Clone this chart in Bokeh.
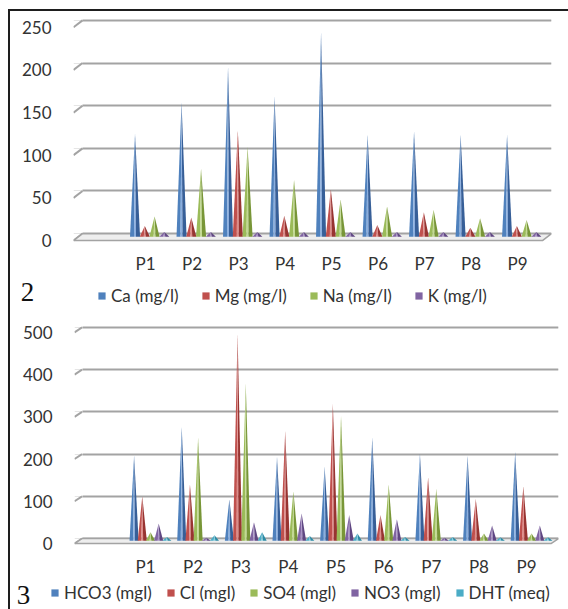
from bokeh.plotting import figure
from bokeh.models import Range1d, LinearAxis, Grid, FixedTicker, Legend, LegendItem, Label, Div
from bokeh.layouts import column, row
from bokeh.embed import file_html
from bokeh.resources import INLINE

# ---------------- data ----------------
stations = ["P1", "P2", "P3", "P4", "P5", "P6", "P7", "P8", "P9"]

cation_names = ["Ca (mg/l)", "Mg (mg/l)", "Na (mg/l)", "K (mg/l)"]
ca = [117, 154, 195, 161, 236, 116, 120, 116, 116]
mg = [9, 19, 121, 21, 52, 10, 25, 7, 9]
na = [20, 76, 102, 63, 40, 32, 28, 18, 16]
k = [2, 2, 2, 2, 2, 2, 2, 2, 2]
cation_ticks = [0, 50, 100, 150, 200, 250]

anion_names = ["HCO3 (mgl)", "Cl (mgl)", "SO4 (mgl)", "NO3 (mgl)", "DHT (meq)"]
hco3 = [197, 264, 93, 193, 170, 240, 201, 196, 205]
cl = [100, 128, 483, 255, 319, 56, 145, 94, 124]
so4 = [15, 240, 367, 112, 291, 128, 118, 12, 12]
no3 = [36, 2, 39, 60, 56, 46, 2, 31, 31]
dht = [4, 8, 15, 6, 12, 4, 4, 3, 3]
anion_ticks = [0, 100, 200, 300, 400, 500]

# ---------------- styles ----------------
FONT = "Lato"
TXT = "#333333"
GRID = "#a3a3a3"
BLUE = ("#4f81bd", "#8aaedf", "#375f98")
RED = ("#c0504d", "#de8d8a", "#983431")
GREEN = ("#9bbb59", "#c3da92", "#789637")
PURPLE = ("#8064a2", "#a993c6", "#5f4682")
CYAN = ("#4bacc6", "#88cfe0", "#2b8aa5")
NAN = float("nan")


def cone_chart(series, colors, ticks, x0, x1, y0, y1, shift, dx, dy,
               center_off, spacing, half_w, height, mb, standoff):
    p = figure(width=558, height=height,
               x_range=Range1d(x0, x1), y_range=Range1d(y0, y1),
               output_backend="svg", toolbar_location=None, y_axis_location=None,
               frame_align=False,
               min_border_left=mb[0], min_border_right=mb[1],
               min_border_top=mb[2], min_border_bottom=mb[3])
    p.outline_line_color = None
    p.xgrid.grid_line_color = None

    # y axis (labels sit on the front plane of the 3D box)
    p.extra_y_ranges = {"lab": Range1d(y0 + shift, y1 + shift)}
    yax = LinearAxis(y_range_name="lab", ticker=FixedTicker(ticks=ticks))
    yax.axis_line_color = None
    yax.major_tick_line_color = None
    yax.minor_tick_line_color = None
    yax.major_label_standoff = 16
    yax.major_label_text_font = FONT
    yax.major_label_text_font_size = "17px"
    yax.major_label_text_color = TXT
    p.add_layout(yax, "left")

    # back-wall grid lines
    g = Grid(dimension=1, ticker=FixedTicker(ticks=ticks), grid_line_color=GRID,
             grid_line_width=2, cross_bounds=(x0 + dx, x1))
    p.add_layout(g)
    n = len(ticks)
    p.segment(x0=[x0] * n, y0=[t - dy for t in ticks], x1=[x0 + dx] * n, y1=ticks,
              line_color=GRID, line_width=2)
    # floor
    p.patch([x0, x0 + dx, x1, x1 - dx], [-dy, 0, 0, -dy],
            fill_color="#eeeeee", line_color=GRID, line_width=1.5)

    # x axis
    p.xaxis.ticker = FixedTicker(ticks=list(range(1, len(stations) + 1)))
    p.xaxis.major_label_overrides = {i + 1: s for i, s in enumerate(stations)}
    p.xaxis.axis_line_color = None
    p.xaxis.major_tick_line_color = None
    p.xaxis.minor_tick_line_color = None
    p.xaxis.major_label_standoff = standoff
    p.xaxis.major_label_text_font = FONT
    p.xaxis.major_label_text_font_size = "17px"
    p.xaxis.major_label_text_color = TXT

    base = -0.45 * dy
    m = len(series)
    for j, (vals, col) in enumerate(zip(series, colors)):
        off = center_off + (j - (m - 1) / 2) * spacing
        L, C, R = ([], []), ([], []), ([], [])
        for i, v in enumerate(vals):
            cx = i + 1 + off
            a = cx - half_w
            b = cx + half_w
            q1 = a + 0.8 * half_w
            q2 = a + 1.2 * half_w
            L[0].append([a, q1, cx]); L[1].append([base, base, v])
            C[0].append([q1, q2, cx]); C[1].append([base, base, v])
            R[0].append([q2, b, cx]); R[1].append([base, base, v])
        p.patches(L[0], L[1], fill_color=col[0], line_color=None)
        p.patches(C[0], C[1], fill_color=col[1], line_color=None)
        p.patches(R[0], R[1], fill_color=col[2], line_color=None)
    return p


def legend_strip(names, colors, height, leg_xy, leg_spacing, tag, tag_xy, tag_size):
    q = figure(width=558, height=height, x_range=Range1d(0, 1), y_range=Range1d(0, 1),
               output_backend="svg", toolbar_location=None,
               x_axis_location=None, y_axis_location=None, frame_align=False,
               min_border_left=0, min_border_right=0, min_border_top=0, min_border_bottom=0)
    q.outline_line_color = None
    q.grid.visible = False
    items = []
    for name, col in zip(names, colors):
        r = q.quad(left=[NAN], right=[NAN], top=[NAN], bottom=[NAN],
                   fill_color=col[0], line_color=None)
        items.append(LegendItem(label=name, renderers=[r]))
    leg = Legend(items=items, orientation="horizontal", location=leg_xy,
                 border_line_color=None, background_fill_alpha=0,
                 label_text_font=FONT, label_text_font_size="17px",
                 label_text_color=TXT, glyph_width=9, glyph_height=9,
                 label_standoff=5, spacing=leg_spacing, padding=0, margin=0)
    q.add_layout(leg)
    q.add_layout(Label(x=tag_xy[0], y=tag_xy[1], x_units="screen", y_units="screen",
                       text=tag, text_font="Liberation Serif", text_font_size=tag_size,
                       text_color="#111111", text_align="center", text_baseline="middle"))
    return q


p1 = cone_chart([ca, mg, na, k], [BLUE, RED, GREEN, PURPLE], cation_ticks,
                x0=-0.548, x1=9.73, y0=-10.4, y1=256.9, shift=8.1, dx=0.194, dy=8.1,
                center_off=0.09, spacing=0.21, half_w=0.108, height=265,
                mb=(63, 17, 3, 30), standoff=4)
l1 = legend_strip(cation_names, [BLUE, RED, GREEN, PURPLE], height=30,
                  leg_xy=(87, 0), leg_spacing=22, tag="2", tag_xy=(17, 15), tag_size="27px")

p2 = cone_chart([hco3, cl, so4, no3, dht], [BLUE, RED, GREEN, PURPLE, CYAN], anion_ticks,
                x0=-0.49, x1=9.67, y0=-16.3, y1=514.0, shift=11.6, dx=0.158, dy=11.6,
                center_off=0.105, spacing=0.172, half_w=0.095, height=273,
                mb=(64, 10, 15, 30), standoff=4)
l2 = legend_strip(anion_names, [BLUE, RED, GREEN, PURPLE, CYAN], height=30,
                  leg_xy=(40, 6), leg_spacing=14, tag="3", tag_xy=(13, 15), tag_size="27px")

left_border = Div(text="", width=2, height=600, margin=(9, 0, 0, 8),
                  styles={"background-color": "#1e1e1e"})
top_border = Div(text="", width=558, height=2, margin=(9, 0, 0, 0),
                 styles={"background-color": "#1e1e1e"})

layout = row(left_border, column(top_border, p1, l1, p2, l2))
open("out.html", "w").write(file_html(layout, INLINE))
